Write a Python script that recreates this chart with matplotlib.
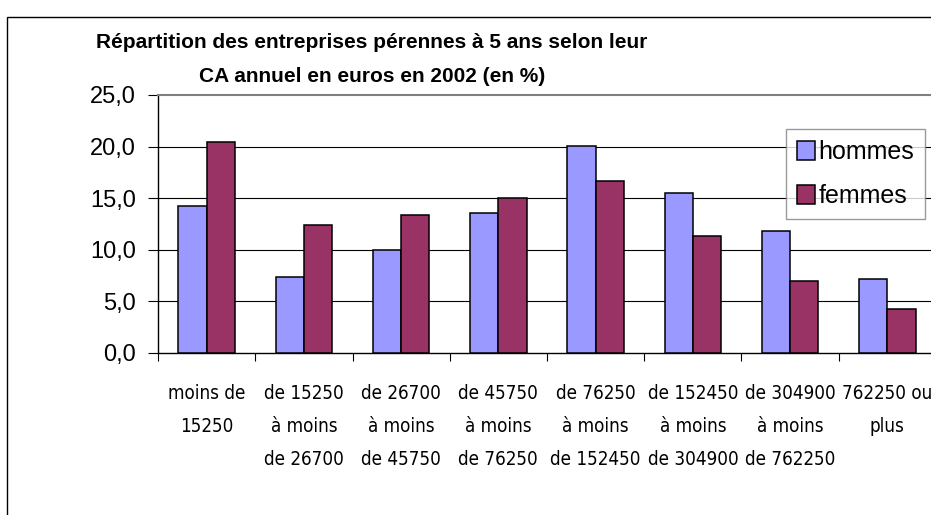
import matplotlib
matplotlib.use("Agg")
import matplotlib.pyplot as plt
from matplotlib import font_manager
from matplotlib.patches import Rectangle
import numpy as np

categories = [
    "moins de\n15250",
    "de 15250\nà moins\nde 26700",
    "de 26700\nà moins\nde 45750",
    "de 45750\nà moins\nde 76250",
    "de 76250\nà moins\nde 152450",
    "de 152450\nà moins\nde 304900",
    "de 304900\nà moins\nde 762250",
    "762250 ou\nplus",
]
hommes = [14.2, 7.4, 10.0, 13.6, 20.1, 15.5, 11.8, 7.2]
femmes = [20.4, 12.4, 13.4, 15.0, 16.7, 11.3, 7.0, 4.3]
yticks = [0, 5, 10, 15, 20, 25]
title_lines = ["Répartition des entreprises pérennes à 5 ans selon leur",
               "CA annuel en euros en 2002 (en %)"]

fonts = font_manager.fontManager.ttflist
names = {f.name for f in fonts}
main_font = "Liberation Sans" if "Liberation Sans" in names else "DejaVu Sans"
if "Liberation Sans Narrow" in names:
    narrow = dict(family="Liberation Sans Narrow", fontsize=14)
elif any(f.name == "DejaVu Sans" and "ondensed" in f.fname for f in fonts):
    narrow = dict(family="DejaVu Sans", stretch="condensed", fontsize=13.5)
else:
    narrow = dict(family=main_font, fontsize=13)
plt.rcParams["font.family"] = [main_font, "DejaVu Sans"]

W, H = 931, 515
fig = plt.figure(figsize=(W / 100, H / 100), dpi=100)
fig.patch.set_facecolor("white")

# chart area border
fig.patches.append(Rectangle((7 / W, -0.1), 2.0, (H - 17) / H + 0.1,
                             transform=fig.transFigure, fill=False,
                             edgecolor="black", linewidth=1.0))

left, right, top, bottom = 158, 936, 95, 353
ax = fig.add_axes([left / W, (H - bottom) / H, (right - left) / W, (bottom - top) / H])

x = np.arange(len(categories))
bw = 0.29
ax.bar(x - bw / 2, hommes, bw, color="#9999FF", edgecolor="black", linewidth=1.1,
       label="hommes", zorder=3)
ax.bar(x + bw / 2, femmes, bw, color="#993366", edgecolor="black", linewidth=1.1,
       label="femmes", zorder=3)

ax.set_xlim(-0.5, len(categories) - 0.5)
ax.set_ylim(0, 25)
ax.set_yticks(yticks)
ax.set_yticklabels([f"{v:.1f}".replace(".", ",") for v in yticks], fontsize=17)
for v in yticks[1:-1]:
    ax.axhline(v, color="black", linewidth=0.8, zorder=1)

ax.set_xticks(x)
ax.set_xticklabels(categories, linespacing=1.95, va="top", **narrow)
ax.set_xticks(np.arange(len(categories) + 1) - 0.5, minor=True)
ax.tick_params(axis="x", which="major", length=0, pad=22)
ax.tick_params(axis="x", which="minor", length=6, width=0.8, direction="out", color="black")
ax.tick_params(axis="y", length=7, width=0.8, direction="out", pad=9, color="black")

for s in ["left", "bottom"]:
    ax.spines[s].set_color("black")
    ax.spines[s].set_linewidth(1.0)
ax.spines["right"].set_visible(False)
ax.spines["top"].set_color("#808080")
ax.spines["top"].set_linewidth(1.5)

leg = ax.legend(loc="upper left", bbox_to_anchor=((786 - left) / (right - left), 1 - (129 - top) / (bottom - top)),
                fontsize=18, frameon=True, fancybox=False, edgecolor="#808080",
                handlelength=0.7, handleheight=0.75, handletextpad=0.15,
                borderpad=0.45, labelspacing=0.8, borderaxespad=0)
leg.get_frame().set_linewidth(1.0)

fig.text(372 / W, 1 - 42 / H, title_lines[0], ha="center", va="center", fontsize=15,
         fontweight="bold")
fig.text(372 / W, 1 - 76 / H, title_lines[1], ha="center", va="center", fontsize=15,
         fontweight="bold")

fig.savefig("out.png", dpi=100)
